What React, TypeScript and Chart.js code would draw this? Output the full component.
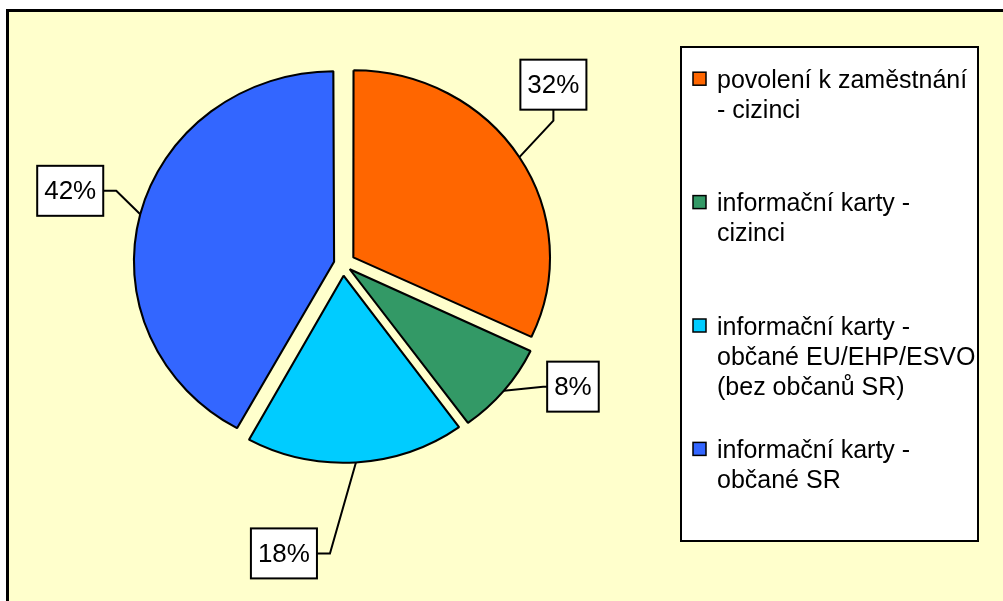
import React, { useEffect, useRef } from "react";
import { Chart, registerables } from "chart.js";

Chart.register(...registerables);

// ---- data ----
const categories: string[][] = [
  ["povolení k zaměstnání", "- cizinci"],
  ["informační karty -", "cizinci"],
  ["informační karty -", "občané EU/EHP/ESVO", "(bez občanů SR)"],
  ["informační karty -", "občané SR"],
];
const shares = [32, 8, 18, 42];
const sliceColors = ["#FF6600", "#339966", "#00CCFF", "#3366FF"];

// ---- layout / style ----
const W = 1003;
const H = 601;
const CX = 342.8;
const CY = 263.8;
const HALF = 200;
const RADIUS = 186;
const ELLIPSE_X = 1.051;
const EXPLODE = 13;
const FONT = '"Liberation Sans", Arial, Helvetica, sans-serif';

// label placement relative to slice anchor (annotation layout)
const labelLayout = [
  { dx: 34, dy: -72.5, attach: "bottom", stub: 11 },
  { dx: 69, dy: -4, attach: "left", stub: 4 },
  { dx: -72, dy: 91, attach: "right", stub: 13 },
  { dx: -70, dy: -23.5, attach: "right", stub: 13 },
];

function sliceOffset(i: number) {
  const total = shares.reduce((a, b) => a + b, 0);
  const circ = (shares[i] / total) * Math.PI * 2;
  return (4 * EXPLODE) / (2 - Math.sin(Math.min(Math.PI, circ)));
}

const backgroundPlugin = {
  id: "bg",
  beforeDraw(chart: any) {
    const ctx = chart.ctx;
    ctx.save();
    ctx.fillStyle = "#ffffff";
    ctx.fillRect(0, 0, W, H);
    ctx.fillStyle = "#FFFFCC";
    ctx.fillRect(7.5, 10.5, W, H);
    ctx.strokeStyle = "#000";
    ctx.lineWidth = 3;
    ctx.beginPath();
    ctx.moveTo(7.5, H + 5);
    ctx.lineTo(7.5, 10.5);
    ctx.lineTo(W + 5, 10.5);
    ctx.stroke();
    ctx.restore();
  },
};

const ellipsePlugin = {
  id: "ellipse",
  beforeDatasetsDraw(chart: any) {
    const a = chart.getDatasetMeta(0).data[0];
    const ctx = chart.ctx;
    ctx.save();
    ctx.translate(a.x, a.y);
    ctx.scale(ELLIPSE_X, 1);
    ctx.translate(-a.x, -a.y);
  },
  afterDatasetsDraw(chart: any) {
    chart.ctx.restore();
  },
};

const labelPlugin = {
  id: "pctLabels",
  afterDraw(chart: any) {
    const ctx = chart.ctx;
    const meta = chart.getDatasetMeta(0);
    const total = shares.reduce((a, b) => a + b, 0);
    ctx.save();
    ctx.font = `26px ${FONT}`;
    meta.data.forEach((arc: any, i: number) => {
      const p = arc.getProps(["x", "y", "startAngle", "endAngle", "outerRadius", "circumference"], true);
      const mid = (p.startAngle + p.endAngle) / 2;
      const off = (arc.options.offset / 4) * (2 - Math.sin(Math.min(Math.PI, p.circumference)));
      const ax = p.x + ELLIPSE_X * Math.cos(mid) * (off + p.outerRadius);
      const ay = p.y + Math.sin(mid) * (off + p.outerRadius);
      const L = labelLayout[i];
      const text = `${Math.round((shares[i] / total) * 100)}%`;
      const tw = ctx.measureText(text).width;
      const bw = tw + 14;
      const bh = 50;
      const bx = ax + L.dx;
      const by = ay + L.dy;
      let tx = bx, ty = by, ex = bx, ey = by;
      if (L.attach === "bottom") {
        tx = bx; ty = by + bh / 2; ex = tx; ey = ty + L.stub;
      } else if (L.attach === "left") {
        tx = bx - bw / 2; ty = by; ex = tx - L.stub; ey = ty;
      } else {
        tx = bx + bw / 2; ty = by; ex = tx + L.stub; ey = ty;
      }
      ctx.strokeStyle = "#000";
      ctx.lineWidth = 2;
      ctx.beginPath();
      ctx.moveTo(ax, ay);
      ctx.lineTo(ex, ey);
      ctx.lineTo(tx, ty);
      ctx.stroke();
      ctx.fillStyle = "#fff";
      ctx.fillRect(bx - bw / 2, by - bh / 2, bw, bh);
      ctx.strokeRect(bx - bw / 2, by - bh / 2, bw, bh);
      ctx.fillStyle = "#000";
      ctx.textAlign = "center";
      ctx.textBaseline = "middle";
      ctx.fillText(text, bx, by + 1);
    });
    ctx.restore();
  },
};

const legendPlugin = {
  id: "customLegend",
  afterDraw(chart: any) {
    const ctx = chart.ctx;
    const lx = 681, ly = 47, lw = 297, lh = 494;
    ctx.save();
    ctx.fillStyle = "#fff";
    ctx.fillRect(lx, ly, lw, lh);
    ctx.strokeStyle = "#000";
    ctx.lineWidth = 2;
    ctx.strokeRect(lx, ly, lw, lh);
    ctx.font = `25px ${FONT}`;
    ctx.textAlign = "left";
    ctx.textBaseline = "alphabetic";
    const labels = chart.data.labels as string[][];
    const colors = chart.data.datasets[0].backgroundColor as string[];
    labels.forEach((lines, i) => {
      const cy = 78.7 + i * 123.4;
      ctx.fillStyle = colors[i];
      ctx.fillRect(693, cy - 6.5, 13, 13);
      ctx.lineWidth = 1.5;
      ctx.strokeStyle = "#000";
      ctx.strokeRect(693, cy - 6.5, 13, 13);
      ctx.fillStyle = "#000";
      lines.forEach((line, j) => {
        ctx.fillText(line, 717, cy + 9 + j * 30.3);
      });
    });
    ctx.restore();
  },
};

export default function App() {
  const ref = useRef<HTMLCanvasElement | null>(null);
  useEffect(() => {
    if (!ref.current) return;
    const chart = new Chart(ref.current, {
      type: "pie",
      data: {
        labels: categories as any,
        datasets: [
          {
            data: shares,
            backgroundColor: sliceColors,
            borderColor: "#000",
            borderWidth: 2,
            offset: (c: any) => sliceOffset(c.dataIndex),
            hoverOffset: 0,
            radius: RADIUS,
            clip: false,
          } as any,
        ],
      },
      options: {
        responsive: false,
        animation: false,
        devicePixelRatio: 1,
        events: [],
        layout: {
          padding: {
            left: CX - HALF,
            right: W - (CX + HALF),
            top: CY - HALF,
            bottom: H - (CY + HALF),
          },
        },
        plugins: {
          legend: { display: false },
          tooltip: { enabled: false },
        },
      },
      plugins: [backgroundPlugin, ellipsePlugin, labelPlugin, legendPlugin],
    });
    return () => chart.destroy();
  }, []);
  return (
    <canvas
      ref={ref}
      width={W}
      height={H}
      style={{ position: "fixed", left: 0, top: 0, width: W, height: H, display: "block" }}
    />
  );
}
